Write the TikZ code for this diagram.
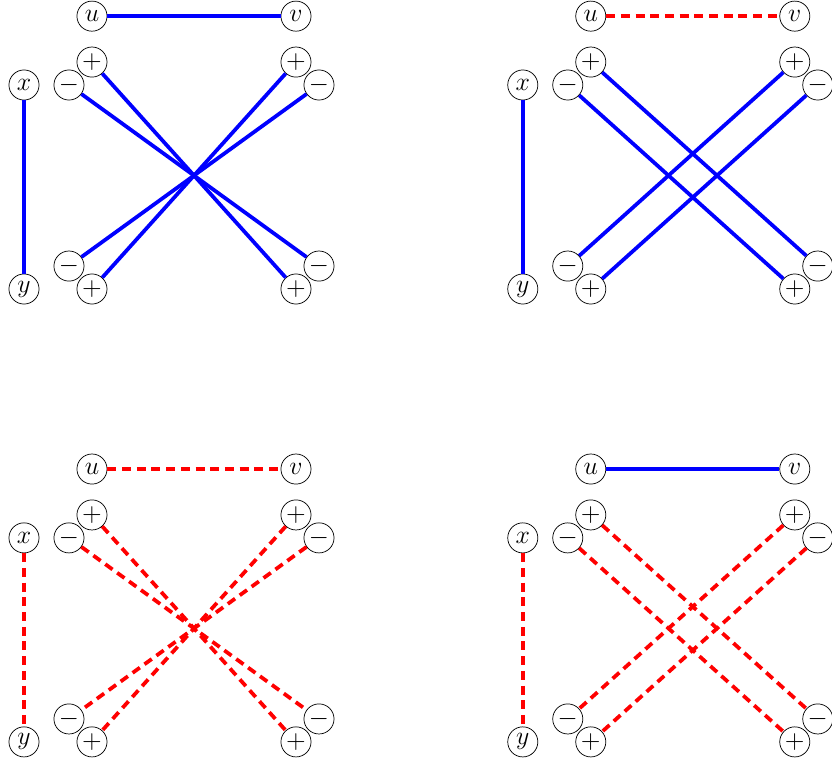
\documentclass[tikz,border=0pt]{standalone}
\usepackage{amsmath,amssymb}
\usepackage{tikz}

% one block of nodes: #1 = name prefix, #2 = shift
\newcommand{\gadget}[2]{%
  \begin{scope}[shift={#2}]
    \node[vtx] (#1x) at (0,0) {$x$};
    \node[vtx] (#1y) at (0,-4) {$y$};
    \node[vtx] (#1u) at (1.333,1.35) {$u$};
    \node[vtx] (#1v) at (5.333,1.35) {$v$};
    \node[vtx] (#1tlm) at (0.882,0) {$-$};
    \node[vtx] (#1trm) at (5.784,0) {$-$};
    \node[vtx] (#1blm) at (0.882,-3.55) {$-$};
    \node[vtx] (#1brm) at (5.784,-3.55) {$-$};
    \node[vtx] (#1tlp) at (1.333,0.45) {$+$};
    \node[vtx] (#1trp) at (5.333,0.45) {$+$};
    \node[vtx] (#1blp) at (1.333,-4) {$+$};
    \node[vtx] (#1brp) at (5.333,-4) {$+$};
  \end{scope}}

\begin{document}
\begin{tikzpicture}[
vtx/.style={circle,draw,fill=white,inner sep=0pt,minimum size=5.9mm,font=\Large},
posedge/.style={blue,line width=2.1pt},
negedge/.style={red,line width=2.1pt,dash pattern=on 5pt off 3.2pt}]
\useasboundingbox (-0.4706,-13.275) rectangle (15.843,1.6667);
\gadget{a}{(0,0)}
\gadget{b}{(9.78,0)}
\gadget{c}{(0,-8.88)}
\gadget{d}{(9.78,-8.88)}
% top left
\draw[posedge] (au)--(av);
\draw[posedge] (ax)--(ay);
\draw[posedge] (atlp)--(abrp);
\draw[posedge] (atlm)--(abrm);
\draw[posedge] (atrp)--(ablp);
\draw[posedge] (atrm)--(ablm);
% top right
\draw[negedge] (bu)--(bv);
\draw[posedge] (bx)--(by);
\draw[posedge] (btlp)--(bbrm);
\draw[posedge] (btlm)--(bbrp);
\draw[posedge] (btrp)--(bblm);
\draw[posedge] (btrm)--(bblp);
% bottom left
\draw[negedge] (cu)--(cv);
\draw[negedge] (cx)--(cy);
\draw[negedge] (ctlp)--(cbrp);
\draw[negedge] (ctlm)--(cbrm);
\draw[negedge] (ctrp)--(cblp);
\draw[negedge] (ctrm)--(cblm);
% bottom right
\draw[posedge] (du)--(dv);
\draw[negedge] (dx)--(dy);
\draw[negedge] (dtlp)--(dbrm);
\draw[negedge] (dtlm)--(dbrp);
\draw[negedge] (dtrp)--(dblm);
\draw[negedge] (dtrm)--(dblp);
\end{tikzpicture}
\end{document}
